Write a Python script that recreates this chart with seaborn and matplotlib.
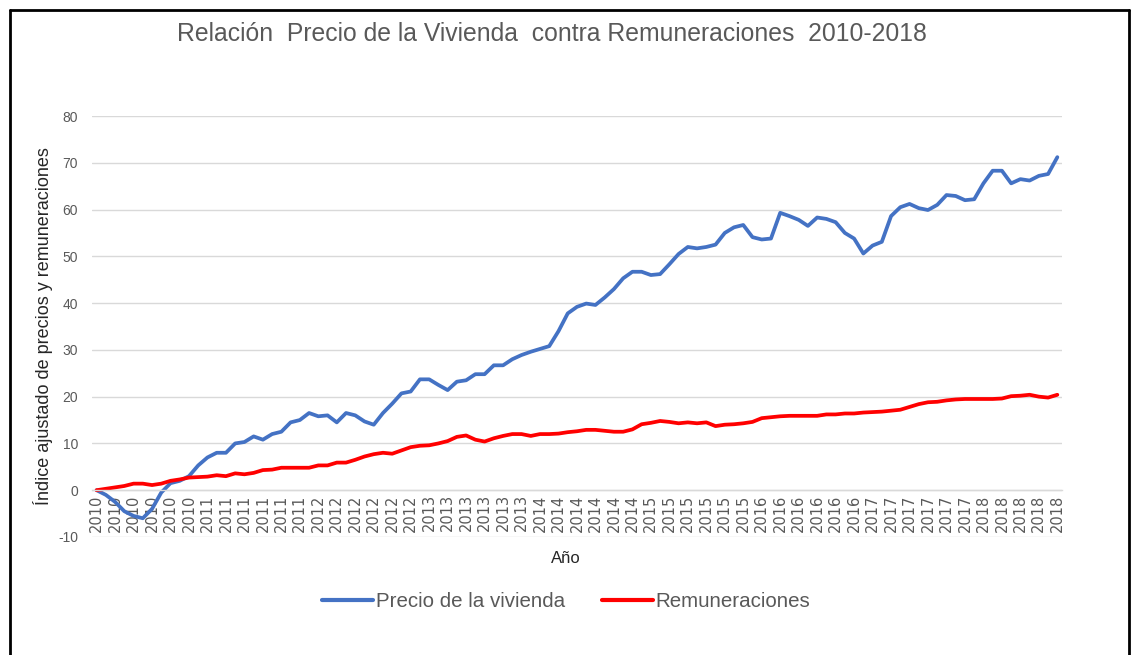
import pandas as pd
import seaborn as sns
import matplotlib.pyplot as plt
from matplotlib.lines import Line2D

# Datos mensuales (enero 2010 - septiembre 2018), índice ajustado
precio_vivienda = [
    0, -1, -2.5, -4.5, -5.5, -6, -4, -0.5, 1.5, 2,
    3, 5.3, 7, 8, 8, 10, 10.3, 11.5, 10.8, 12,
    12.5, 14.5, 15, 16.5, 15.8, 16, 14.5, 16.5, 16, 14.7,
    14, 16.5, 18.5, 20.7, 21.1, 23.7, 23.7, 22.5, 21.4, 23.2,
    23.5, 24.8, 24.8, 26.7, 26.7, 28, 28.9, 29.6, 30.2, 30.8,
    34, 37.8, 39.2, 39.9, 39.6, 41.2, 43, 45.3, 46.7, 46.7,
    46, 46.2, 48.3, 50.5, 52, 51.7, 52, 52.5, 55, 56.2,
    56.7, 54.1, 53.6, 53.8, 59.3, 58.6, 57.8, 56.5, 58.3, 58,
    57.3, 55, 53.8, 50.6, 52.3, 53.1, 58.6, 60.5, 61.2, 60.3,
    59.9, 61, 63.1, 62.9, 62, 62.2, 65.6, 68.3, 68.3, 65.6,
    66.5, 66.2, 67.2, 67.6, 71.2,
]
remuneraciones = [
    0, 0.3, 0.6, 0.9, 1.4, 1.4, 1.1, 1.4, 2, 2.3,
    2.7, 2.8, 2.9, 3.2, 3, 3.6, 3.4, 3.7, 4.3, 4.4,
    4.8, 4.8, 4.8, 4.8, 5.3, 5.3, 5.9, 5.9, 6.5, 7.2,
    7.7, 8, 7.8, 8.5, 9.2, 9.5, 9.6, 10, 10.5, 11.4,
    11.7, 10.8, 10.4, 11.1, 11.6, 12, 12, 11.6, 12, 12,
    12.1, 12.4, 12.6, 12.9, 12.9, 12.7, 12.5, 12.5, 13, 14.1,
    14.4, 14.8, 14.6, 14.3, 14.5, 14.3, 14.5, 13.7, 14, 14.1,
    14.3, 14.6, 15.4, 15.6, 15.8, 15.9, 15.9, 15.9, 15.9, 16.2,
    16.2, 16.4, 16.4, 16.6, 16.7, 16.8, 17, 17.2, 17.8, 18.4,
    18.8, 18.9, 19.2, 19.4, 19.5, 19.5, 19.5, 19.5, 19.6, 20.1,
    20.2, 20.4, 20, 19.8, 20.4,
]
fechas = pd.date_range("2010-01-01", periods=len(precio_vivienda), freq="MS")
etiquetas_anio = [str(f.year) for f in fechas]

df = pd.DataFrame({
    "idx": list(range(len(fechas))) * 2,
    "valor": precio_vivienda + remuneraciones,
    "serie": ["Precio de la vivienda"] * len(fechas) + ["Remuneraciones"] * len(fechas),
})

sns.set_style("white")
plt.rcParams["font.family"] = ["Liberation Sans", "DejaVu Sans"]
plt.rcParams["axes.unicode_minus"] = False

gris = "#595959"
fig = plt.figure(figsize=(11.37, 6.55), dpi=100)
ax = fig.add_axes([0.0809, 0.1802, 0.8531, 0.6427])

sns.lineplot(data=df, x="idx", y="valor", hue="serie",
             palette={"Precio de la vivienda": "#4472C4", "Remuneraciones": "#FF0000"},
             linewidth=2.7, ax=ax, legend=False)

ax.set_xlim(-0.5, len(fechas) - 0.5)
ax.set_ylim(-10, 80)
ax.set_yticks(range(-10, 81, 10))
ax.yaxis.grid(True, color="#D9D9D9", linewidth=1)
ax.set_axisbelow(True)
for s in ["top", "right", "left"]:
    ax.spines[s].set_visible(False)
ax.spines["bottom"].set_position(("data", 0))
ax.spines["bottom"].set_color("#D9D9D9")
ax.spines["bottom"].set_linewidth(1)

ticks = list(range(0, len(fechas), 2))
ax.set_xticks(ticks)
ax.set_xticklabels([etiquetas_anio[i] for i in ticks], rotation=90,
                   fontsize=10.5, color=gris, family="DejaVu Sans")
ax.tick_params(axis="x", length=0, pad=3)
ax.tick_params(axis="y", length=0, pad=10, labelsize=10, labelcolor=gris)

ax.set_xlabel("")
ax.set_ylabel("Índice ajustado de precios y remuneraciones", fontsize=13,
              color="#262626", labelpad=4)
fig.text(0.498, 0.148, "Año", ha="center", va="center", fontsize=12, color="#262626")

fig.text(0.4855, 0.948, "Relación  Precio de la Vivienda  contra Remuneraciones  2010-2018",
         ha="center", va="center", fontsize=17.8, color=gris)

handles = [Line2D([], [], color="#4472C4", linewidth=3),
           Line2D([], [], color="#FF0000", linewidth=3)]
fig.legend(handles, ["Precio de la vivienda", "Remuneraciones"], loc="center",
           bbox_to_anchor=(0.498, 0.082), ncol=2, frameon=False, fontsize=14.8,
           handlelength=2.5, handletextpad=0.12, columnspacing=1.8, labelcolor=gris)

# marco negro
for xs, ys in [([0.0088, 0.0088], [0, 0.985]), ([0.0088, 0.993], [0.985, 0.985]),
               ([0.993, 0.993], [0, 0.985])]:
    fig.add_artist(Line2D(xs, ys, color="black", linewidth=2, transform=fig.transFigure))

fig.savefig("out.png", dpi=100)
